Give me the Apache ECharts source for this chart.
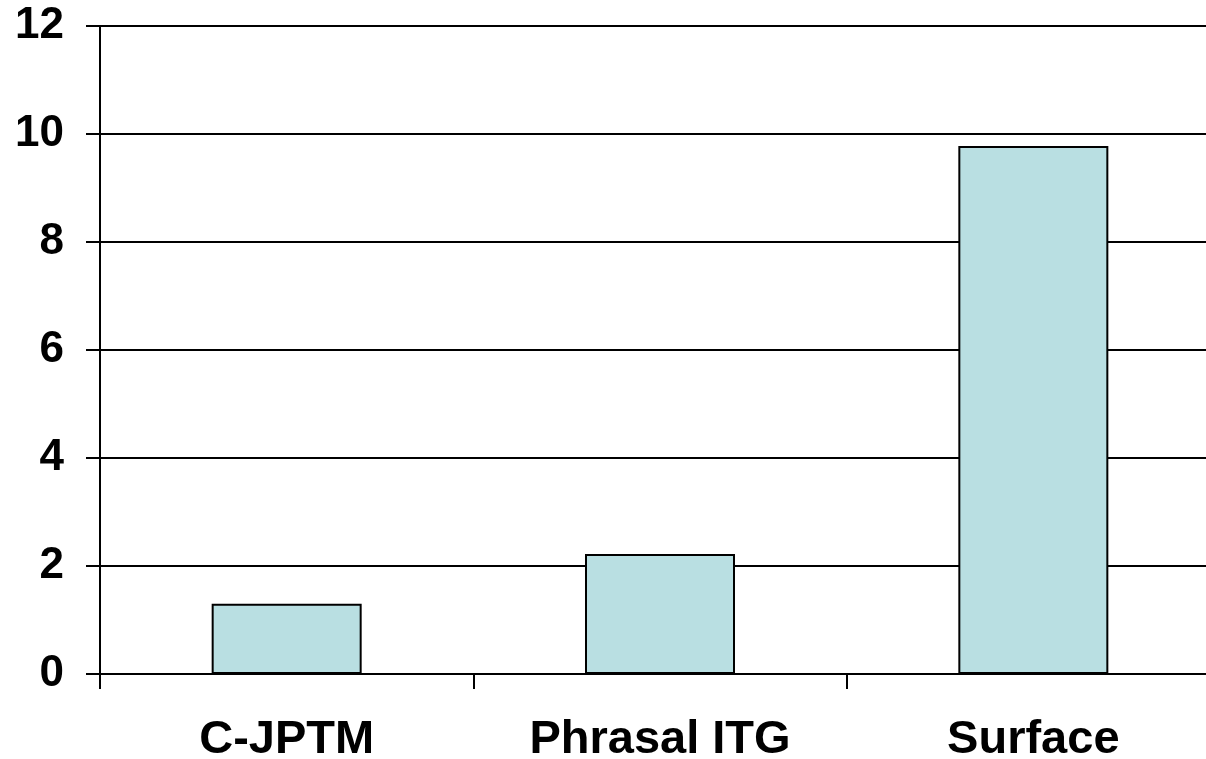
<!DOCTYPE html>
<html>
<head>
<meta charset="utf-8">
<style>
  html, body { margin: 0; padding: 0; background: #ffffff; }
  #chart { width: 1206px; height: 759px; }
</style>
<script src="https://cdn.jsdelivr.net/npm/echarts@6/dist/echarts.min.js"></script>
</head>
<body>
<div id="chart"></div>
<script>
// Categories and bar heights
const categories = ['C-JPTM', 'Phrasal ITG', 'Surface'];
const values = [1.3, 2.22, 9.78];
// Value axis range
const yMin = 0;
const yMax = 12;
const yStep = 2;

const FONT = '"Liberation Sans", Arial, Helvetica, sans-serif';

const chart = echarts.init(document.getElementById('chart'), null, { renderer: 'canvas' });
chart.setOption({
  backgroundColor: '#ffffff',
  animation: false,
  // plot runs a little past the right edge of the canvas
  grid: {
    left: 100, top: 26, width: 1120, height: 648,
    containLabel: false,
    outerBoundsMode: 'none'
  },
  xAxis: {
    type: 'category',
    data: categories,
    boundaryGap: true,
    axisLine: { show: true, lineStyle: { color: '#000', width: 2 } },
    axisTick: { show: true, length: 15, lineStyle: { color: '#000', width: 2 } },
    axisLabel: {
      margin: 43,
      color: '#000',
      fontFamily: FONT,
      fontWeight: 'bold',
      fontSize: 47
    },
    splitLine: { show: false }
  },
  yAxis: {
    type: 'value',
    min: yMin,
    max: yMax,
    interval: yStep,
    axisLine: { show: true, lineStyle: { color: '#000', width: 2 } },
    axisTick: { show: true, length: 14, lineStyle: { color: '#000', width: 2 } },
    axisLabel: {
      margin: 36,
      color: '#000',
      fontFamily: FONT,
      fontWeight: 'bold',
      fontSize: 44
    },
    splitLine: { show: true, lineStyle: { color: '#000', width: 2 } }
  },
  series: [{
    type: 'bar',
    data: values,
    barWidth: 150,
    itemStyle: { color: '#b9dfe2', borderColor: '#000', borderWidth: 2 }
  }]
});
</script>
</body>
</html>
